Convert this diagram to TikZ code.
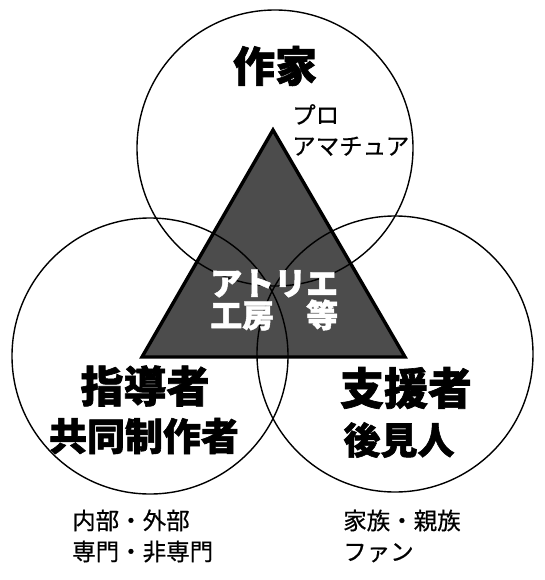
\documentclass[tikz,border=0pt]{standalone}
\usepackage{fontspec}
\setmainfont{Noto Sans CJK JP}
\newfontfamily\heavyjp[BoldFeatures={FakeBold=1.5}]{Noto Sans CJK JP}
\newfontfamily\medjp[FakeBold=0.5]{Noto Sans CJK JP}
\begin{document}
\begin{tikzpicture}[x=1pt,y=-1pt,
  ring/.style={circle,draw=black,line width=1.4pt,minimum size=276pt,inner sep=0pt},
  bigtxt/.style={font=\heavyjp\fontsize{#1}{#1}\selectfont\bfseries,inner sep=0pt},
  smalltxt/.style={font=\medjp\fontsize{23.5}{31}\selectfont,align=left,inner sep=0pt,anchor=west},
]
\useasboundingbox[fill=white] (0,0) rectangle (545,580);
% triangle
\coordinate (apex) at (273,130);
\coordinate (bl) at (142,357);
\coordinate (br) at (405,357);
\fill[black!70] (apex) -- (bl) -- (br) -- cycle;
% circles
\node[ring] (top) at (275,148) {};
\node[ring] (left) at (150,356) {};
\node[ring] (right) at (395,354) {};
\draw[line width=3.4pt,line join=miter] (apex) -- (bl) -- (br) -- cycle;
% texts
\node[bigtxt=42] (sakka) at (275,66) {作家};
\node[smalltxt] (pro) at (292,130) {プロ\\アマチュア};
\node[font=\heavyjp\fontsize{32}{32}\selectfont\bfseries,text=white,align=left,inner sep=0pt,anchor=west] (atelier) at (210,300) {アトリエ\\工房　等};
\node[bigtxt=43] (shidou) at (145,386) {指導者};
\node[bigtxt=38] (kyodo) at (144,436) {共同制作者};
\node[bigtxt=44] (shien) at (406,388) {支援者};
\node[bigtxt=37] (koken) at (399,440) {後見人};
\node[smalltxt] (naibu) at (72,536) {内部・外部\\専門・非専門};
\node[smalltxt] (kazoku) at (343,536) {家族・親族\\ファン};
\end{tikzpicture}
\end{document}
